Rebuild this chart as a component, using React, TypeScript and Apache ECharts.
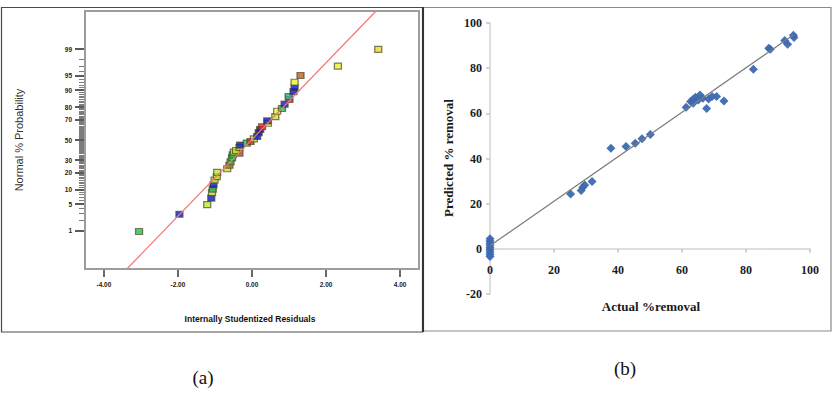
import React, { useEffect, useRef } from "react";
import * as echarts from "echarts";

// ---- Panel (a): normal probability plot of residuals ----
const residuals = [
  -3.05, -1.96, -1.21, -1.1, -1.08, -1.06, -1.04, -1.01, -0.95, -0.94, -0.67,
  -0.61, -0.58, -0.54, -0.52, -0.34, -0.49, -0.43, -0.34, -0.32, -0.14, -0.04,
  0.05, 0.14, 0.18, 0.22, 0.27, 0.43, 0.41, 0.63, 0.68, 0.81, 0.88, 1.01, 0.99,
  1.12, 1.15, 1.15, 1.31, 2.32, 3.41,
];
const normalProbability = [
  0.94, 2.84, 4.85, 6.8, 8.85, 10.4, 12.5, 15.2, 17.4, 20.3, 23.0, 25.8, 28.8,
  32.3, 35.2, 36.7, 37.8, 39.4, 42.5, 44.8, 46.8, 48.4, 51.2, 53.6, 57.5, 60.6,
  63.3, 66.6, 68.8, 72.6, 77.0, 79.1, 82.1, 85.1, 86.7, 89.3, 91.0, 93.1, 95.1,
  97.1, 99.0,
];
const pointColors = [
  "#22c24a", "#0a18d0", "#bde92e", "#0a18d0", "#bde92e", "#22c24a", "#0a18d0",
  "#bde92e", "#bde92e", "#bde92e", "#bde92e", "#c8602a", "#22c24a", "#22c24a",
  "#22c24a", "#b8443c", "#bde92e", "#bde92e", "#bde92e", "#0a18d0", "#22c24a",
  "#e42020", "#bde92e", "#0a18d0", "#0a18d0", "#0a18d0", "#e42020", "#eef030",
  "#0a18d0", "#bde92e", "#eef030", "#22c24a", "#0a18d0", "#e42020", "#22b4a4",
  "#0a18d0", "#0a18d0", "#eef030", "#c0601e", "#eef030", "#e8d82a",
];
const refLineResidual = [-3.38, 3.35];
const refLineScore = [-3.31, 3.31];
const residualTicks = [-4, -2, 0, 2, 4];
const probabilityTicks = [1, 5, 10, 20, 30, 50, 70, 80, 90, 95, 99];
const probabilityMinorTicks = Array.from({ length: 99 }, (_, i) => i + 1);

// ---- Panel (b): predicted vs actual removal ----
const actualRemoval = [
  0, 0, 0, 0, 0, 0, 0, 0, 0, 25.2, 28.5, 29.0, 29.6, 31.9, 37.8, 42.5, 45.4,
  47.5, 50.1, 61.3, 62.7, 63.5, 63.5, 64.2, 65.1, 65.6, 66.5, 67.7, 68.3, 69.4,
  70.8, 73.1, 82.3, 87.1, 87.6, 92.1, 93.0, 94.8, 95.0,
];
const predictedRemoval = [
  4.5, 3.5, 2.5, 1.5, 0.5, -0.5, -1.5, -2.5, -3.4, 24.3, 25.8, 27.3, 28.3, 29.8,
  44.5, 45.3, 46.8, 48.7, 50.6, 62.7, 65.2, 66.2, 64.5, 67.1, 65.9, 68.1, 66.7,
  62.1, 66.4, 67.4, 67.4, 65.5, 79.5, 88.8, 88.4, 92.2, 90.6, 94.6, 93.6,
];
const fitActual = [0, 95];
const fitPredicted = [1.4, 94.9];
const removalMinY = -20;
const removalMaxY = 100;

// Inverse of the standard normal CDF (Acklam's rational approximation)
function probit(p: number): number {
  const a = [-39.69683028665376, 220.9460984245205, -275.9285104469687, 138.357751867269, -30.66479806614716, 2.506628277459239];
  const b = [-54.47609879822406, 161.5858368580409, -155.6989798598866, 66.80131188771972, -13.28068155288572];
  const c = [-0.007784894002430293, -0.3223964580411365, -2.400758277161838, -2.549671010229528, 4.374664141464968, 2.938163982698783];
  const d = [0.007784695709041462, 0.3224671290700398, 2.445134137142996, 3.754408661907416];
  const plow = 0.02425;
  if (p < plow) {
    const q = Math.sqrt(-2 * Math.log(p));
    return (((((c[0] * q + c[1]) * q + c[2]) * q + c[3]) * q + c[4]) * q + c[5]) /
      ((((d[0] * q + d[1]) * q + d[2]) * q + d[3]) * q + 1);
  }
  if (p > 1 - plow) {
    const q = Math.sqrt(-2 * Math.log(1 - p));
    return -(((((c[0] * q + c[1]) * q + c[2]) * q + c[3]) * q + c[4]) * q + c[5]) /
      ((((d[0] * q + d[1]) * q + d[2]) * q + d[3]) * q + 1);
  }
  const q = p - 0.5;
  const r = q * q;
  return (((((a[0] * r + a[1]) * r + a[2]) * r + a[3]) * r + a[4]) * r + a[5]) * q /
    (((((b[0] * r + b[1]) * r + b[2]) * r + b[3]) * r + b[4]) * r + 1);
}

const majorScores = probabilityTicks.map((p) => probit(p / 100));
const minorScores = probabilityMinorTicks.map((p) => probit(p / 100));

function scoreLabel(v: number): string {
  const i = majorScores.findIndex((z) => Math.abs(z - v) < 1e-6);
  return i >= 0 ? String(probabilityTicks[i]) : "";
}

const residualMin = -4.51;
const residualMax = 4.51;
const scoreMin = -3.31;
const scoreMax = 3.31;

// Custom series that draws short horizontal tick bars to the left of the plot box
function scoreTickSeries(scores: number[], len: number, thick: number, color: string) {
  return {
    type: "custom", xAxisIndex: 0, yAxisIndex: 0, clip: false, silent: true,
    data: scores.map((z) => [residualMin, z]),
    renderItem: (_p: any, api: any) => {
      const pt = api.coord([api.value(0), api.value(1)]);
      const y = Math.round(pt[1] - thick / 2);
      const x = Math.round(pt[0]) - 1 - len;
      return {
        type: "rect",
        shape: { x, y, width: len, height: thick },
        style: { fill: color },
      };
    },
  };
}

export default function App() {
  const ref = useRef<HTMLDivElement>(null);

  useEffect(() => {
    document.body.style.margin = "0";
    if (!ref.current) return;
    const chart = echarts.init(ref.current, undefined, { renderer: "svg" });

    const sans = "Liberation Sans";
    const serif = "Liberation Serif";
    const frameGrey = "#9c9c9c";

    // panel (b) plot box; the horizontal axis crosses at predicted = 0
    const gridB = { left: 490, top: 23, width: 320, height: 271 };
    const zeroOffset = (gridB.height * (0 - removalMinY)) / (removalMaxY - removalMinY);

    const option: any = {
      animation: false,
      backgroundColor: "#ffffff",
      grid: [
        {
          left: 85, top: 11, width: 334, height: 258,
          show: true, borderColor: frameGrey, borderWidth: 2,
          backgroundColor: "transparent",
        },
        gridB,
      ],
      xAxis: [
        {
          type: "value", gridIndex: 0, min: residualMin, max: residualMax, position: "bottom",
          axisLine: { show: false, onZero: false },
          splitLine: { show: false },
          axisTick: { show: false },
          axisLabel: {
            customValues: residualTicks, margin: 12,
            formatter: (v: number) => v.toFixed(2),
            fontFamily: sans, fontSize: 6.5, fontWeight: "bold", color: "#222",
          },
        },
        {
          type: "value", gridIndex: 1, min: 0, max: 100, interval: 20,
          position: "bottom", offset: -zeroOffset,
          axisLine: { show: true, onZero: false, lineStyle: { color: "#d4d4d4", width: 1.5 } },
          splitLine: { show: false },
          axisTick: { show: true, length: 4, lineStyle: { color: "#c4c4c4", width: 1.5 } },
          axisLabel: {
            margin: 15,
            fontFamily: serif, fontSize: 12, fontWeight: "bold", color: "#1c1c1c",
          },
        },
      ],
      yAxis: [
        {
          type: "value", gridIndex: 0, min: scoreMin, max: scoreMax, position: "left",
          axisLine: { show: false, onZero: false },
          splitLine: { show: false },
          axisTick: { show: false },
          axisLabel: {
            customValues: majorScores, margin: 13, formatter: scoreLabel,
            fontFamily: sans, fontSize: 6.5, fontWeight: "bold", color: "#222",
          },
        },
        {
          type: "value", gridIndex: 1, min: removalMinY, max: removalMaxY, interval: 20,
          position: "left",
          axisLine: { show: true, onZero: false, lineStyle: { color: "#d4d4d4", width: 1.5 } },
          splitLine: { show: false },
          axisTick: { show: true, length: 4, lineStyle: { color: "#c4c4c4", width: 1.5 } },
          axisLabel: {
            margin: 8, fontFamily: serif, fontSize: 12, fontWeight: "bold", color: "#1c1c1c",
          },
        },
      ],
      series: [
        // probability-axis ticks: one per percent, longer at the labelled values
        scoreTickSeries(minorScores, 5, 1, "#7c7c7c"),
        scoreTickSeries(majorScores, 9, 2, "#5a5a5a"),
        // residual-axis ticks below the plot box
        {
          type: "custom", xAxisIndex: 0, yAxisIndex: 0, clip: false, silent: true,
          data: residualTicks.map((x) => [x, scoreMin]),
          renderItem: (_p: any, api: any) => {
            const pt = api.coord([api.value(0), api.value(1)]);
            return {
              type: "rect",
              shape: { x: Math.round(pt[0]) - 1, y: Math.round(pt[1]) + 1, width: 2, height: 7 },
              style: { fill: "#6a6a6a" },
            };
          },
        },
        {
          type: "line", xAxisIndex: 0, yAxisIndex: 0,
          data: refLineResidual.map((x, i) => [x, refLineScore[i]]),
          symbol: "none", silent: true,
          lineStyle: { color: "#f07878", width: 1.2 },
        },
        {
          type: "scatter", xAxisIndex: 0, yAxisIndex: 0,
          symbol: "rect", symbolSize: [7, 6],
          data: residuals.map((x, i) => ({
            value: [x, probit(normalProbability[i] / 100)],
            itemStyle: { color: pointColors[i] },
          })),
          itemStyle: { borderColor: "rgba(70,66,40,0.85)", borderWidth: 1.2 },
        },
        {
          type: "line", xAxisIndex: 1, yAxisIndex: 1,
          data: fitActual.map((x, i) => [x, fitPredicted[i]]),
          symbol: "none", silent: true,
          lineStyle: { color: "#7a7a7a", width: 1.2 },
        },
        {
          type: "scatter", xAxisIndex: 1, yAxisIndex: 1,
          symbol: "diamond", symbolSize: 9,
          data: actualRemoval.map((x, i) => [x, predictedRemoval[i]]),
          itemStyle: { color: "#3d69b1", opacity: 0.95 },
        },
      ],
      graphic: [
        // panel frames
        {
          type: "rect", shape: { x: 1.5, y: 7.5, width: 421, height: 324.5 },
          style: { fill: "none", stroke: "#4a4a4a", lineWidth: 1.2 }, silent: true,
        },
        {
          type: "rect", shape: { x: 423.5, y: 7.5, width: 407.5, height: 323.5 },
          style: { fill: "none", stroke: "#8a8a8a", lineWidth: 1.2 }, silent: true,
        },
        {
          type: "line", shape: { x1: 423, y1: 7, x2: 423, y2: 332 },
          style: { stroke: "#333", lineWidth: 2 }, silent: true,
        },
        // panel (a) axis titles
        {
          type: "text", x: 19, y: 140, rotation: Math.PI / 2,
          style: {
            text: "Normal % Probability", fontFamily: sans, fontSize: 11,
            fill: "#333", align: "center", verticalAlign: "middle",
          },
        },
        {
          type: "text", x: 250, y: 319,
          style: {
            text: "Internally Studentized Residuals", fontFamily: sans, fontSize: 8.5,
            fontWeight: "bold", fill: "#111", align: "center", verticalAlign: "middle",
          },
        },
        // panel (b) axis titles
        {
          type: "text", x: 448, y: 158, rotation: Math.PI / 2,
          style: {
            text: "Predicted % removal", fontFamily: serif, fontSize: 13,
            fontWeight: "bold", fill: "#1a1a1a", align: "center", verticalAlign: "middle",
          },
        },
        {
          type: "text", x: 651, y: 306,
          style: {
            text: "Actual %removal", fontFamily: serif, fontSize: 13,
            fontWeight: "bold", fill: "#1a1a1a", align: "center", verticalAlign: "middle",
          },
        },
        // captions
        {
          type: "text", x: 203, y: 377,
          style: {
            text: "(a)", fontFamily: serif, fontSize: 19, fill: "#111",
            align: "center", verticalAlign: "middle",
          },
        },
        {
          type: "text", x: 625, y: 368,
          style: {
            text: "(b)", fontFamily: serif, fontSize: 19, fill: "#111",
            align: "center", verticalAlign: "middle",
          },
        },
      ],
    };

    chart.setOption(option);
    return () => chart.dispose();
  }, []);

  return <div ref={ref} style={{ width: 836, height: 398 }} />;
}
